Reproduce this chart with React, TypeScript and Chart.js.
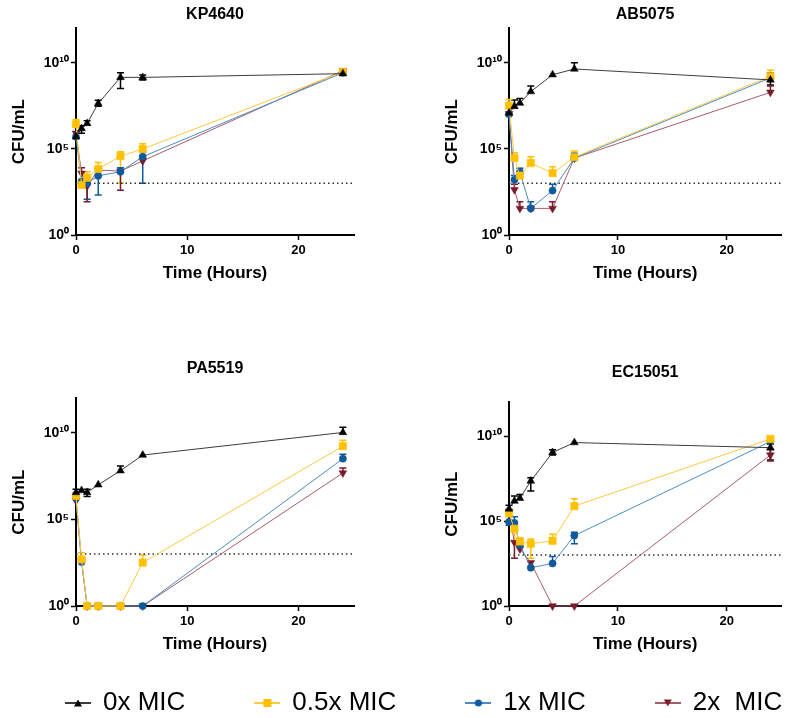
import React, { useEffect, useRef } from 'react';
import { Chart, registerables } from 'chart.js';

Chart.register(...registerables);

// ---------- data ----------
const times = [0, 0.5, 1, 2, 4, 6, 24];
const seriesLabels = ['0x MIC', '0.5x MIC', '1x MIC', '2x  MIC'];
const xTickValues = [0, 10, 20];
const yTickValues = [1, 1e5, 1e10];
const yTickLabels = ['10⁰', '10⁵', '10¹⁰'];
const lodX = [0, 25];
const lodY = [1e3, 1e3];

// KP4640
const kpMic0 = [5e5, 1.5e6, 3e6, 4.3e7, 1.4e9, 1.4e9, 2.3e9];
const kpMic0Hi = [null, 2.2e6, 4.2e6, 6.7e7, 2.6e9, 1.9e9, 2.9e9];
const kpMic0Lo = [null, 8e5, null, 3e7, 3.2e8, 9.8e8, null];
const kpMic05 = [2.7e6, 8e2, 2.1e3, 6.8e3, 3.8e4, 9.8e4, 2.9e9];
const kpMic05Hi = [5.1e6, null, 4.7e3, 1.6e4, 6.8e4, 2e5, 3.5e9];
const kpMic05Lo = [1.9e6, null, null, null, 1e3, null, null];
const kpMic1 = [5e5, 1.3e3, 1e3, 2.7e3, 4.7e3, 3.5e4, 2.6e9];
const kpMic1Hi = [null, null, 2.3e3, null, 8e3, 6.8e4, null];
const kpMic1Lo = [null, null, 1.2e2, 2.1e2, null, 1e3, null];
const kpMic2 = [8e5, 3.8e3, 6.9e2, 5.9e3, 5.1e3, 2e4, 3.4e9];
const kpMic2Hi = [null, 7.9e3, null, null, null, null, 4e9];
const kpMic2Lo = [null, null, 85, null, 4e2, null, null];

// AB5075
const abMic0 = [1.2e7, 2.9e7, 4.5e7, 2.1e8, 2e9, 4.3e9, 1e9];
const abMic0Hi = [null, 6.8e7, 8.3e7, 4.4e8, null, 9.8e9, 1.9e9];
const abMic0Lo = [null, null, null, null, null, null, 5e8];
const abMic05 = [3.2e7, 2.9e4, 2.8e3, 1.5e4, 3.9e3, 3.3e4, 1.6e9];
const abMic05Hi = [7.4e7, 5.9e4, 7.4e3, 3.5e4, 9.1e3, 7.4e4, 3.7e9];
const abMic05Lo = [null, null, null, null, null, null, null];
const abMic1 = [1e7, 1.6e3, 4.4e3, 35, 3.8e2, 2.9e4, 1.3e9];
const abMic1Hi = [null, 2.8e3, 7.4e3, 85, 8.7e2, 5.5e4, 2.5e9];
const abMic1Lo = [null, null, null, null, null, null, null];
const abMic2 = [1.1e7, 4.2e2, 35, 35, 35, 2.9e4, 1.9e8];
const abMic2Hi = [null, 8.7e2, 85, null, 85, null, 4.4e8];
const abMic2Lo = [null, null, null, null, null, null, null];

// PA5519
const paMic0 = [3.6e6, 4.7e6, 3.6e6, 1e7, 6.5e7, 5.2e8, 1.05e10];
const paMic0Hi = [5.6e6, null, 5.6e6, null, 1.2e8, null, 2.1e10];
const paMic0Lo = [null, null, 2.1e6, null, null, null, null];
const paMic05 = [2.3e6, 4.9e2, 1, 1, 1, 3.2e2, 1.7e9];
const paMic05Hi = [null, 1.2e3, null, null, null, 8.7e2, 3.7e9];
const paMic05Lo = [null, null, null, null, null, null, null];
const paMic1 = [1.7e6, 3.5e2, 1, 1, 1, 1, 3.2e8];
const paMic1Hi = [null, null, null, null, null, null, 5.8e8];
const paMic1Lo = [null, null, null, null, null, null, null];
const paMic2 = [1.2e6, 4e2, 1, 1, 1, 1, 4.8e7];
const paMic2Hi = [null, null, null, null, null, null, 9.3e7];
const paMic2Lo = [null, null, null, null, null, null, null];

// EC15051
const ecMic0 = [5.2e5, 1.5e6, 2.2e6, 2.3e7, 1.1e9, 4.2e9, 2.1e9];
const ecMic0Hi = [8.7e5, 3e6, 3.7e6, 3.6e7, 1.6e9, null, 3.5e9];
const ecMic0Lo = [null, null, null, 5.9e6, 7.8e8, null, 3.9e8];
const ecMic05 = [2.8e5, 3.5e4, 6.3e3, 4.6e3, 6.9e3, 7.6e5, 6.9e9];
const ecMic05Hi = [null, null, 1e4, 8.7e3, 1.7e4, 2.1e6, null];
const ecMic05Lo = [null, 7e3, null, 6.5e2, null, null, null];
const ecMic1 = [8.9e4, 7.8e4, 4e3, 1.8e2, 3.2e2, 1.4e4, 4.8e9];
const ecMic1Hi = [null, 1.8e5, null, null, 8.1e2, 2.2e4, null];
const ecMic1Lo = [5.6e4, null, null, null, null, 4.6e3, null];
const ecMic2 = [3.8e5, 5.5e3, 2.3e3, 3.5e2, 1, 1, 7.8e8];
const ecMic2Hi = [null, null, null, null, null, null, 1.6e9];
const ecMic2Lo = [null, 6.5e2, null, null, null, null, 3.5e8];

// ---------- styles ----------
const FONT = "'Liberation Sans', Arial, Helvetica, sans-serif";
const markerColors = ['#000000', '#FFC000', '#0E5A9C', '#7A1A2B'];
const lineColors = ['#3c3c3c', '#FFC940', '#4C8BC2', '#A65D69'];
const pointStyles = ['triangle', 'rect', 'circle', 'triangle'];
const pointRotations = [0, 0, 0, 180];
const pointRadii = [4.5, 5.2, 3.6, 4.5];
const drawOrder = [1, 2, 3, 4];

type Box = { left: number; right: number; top: number; bottom: number };
type PanelCfg = {
  title: string;
  series: number[][];
  hi: (number | null)[][];
  lo: (number | null)[][];
  pos: { left: number; top: number; width: number; height: number };
  padding: Box;
  titlePad: { top: number; bottom: number };
};

const panels: PanelCfg[] = [
  {
    title: 'KP4640',
    series: [kpMic0, kpMic05, kpMic1, kpMic2],
    hi: [kpMic0Hi, kpMic05Hi, kpMic1Hi, kpMic2Hi],
    lo: [kpMic0Lo, kpMic05Lo, kpMic1Lo, kpMic2Lo],
    pos: { left: 0, top: 0, width: 393, height: 300 },
    padding: { left: 0, right: 39, top: 0, bottom: 15 },
    titlePad: { top: 5, bottom: 4 },
  },
  {
    title: 'AB5075',
    series: [abMic0, abMic05, abMic1, abMic2],
    hi: [abMic0Hi, abMic05Hi, abMic1Hi, abMic2Hi],
    lo: [abMic0Lo, abMic05Lo, abMic1Lo, abMic2Lo],
    pos: { left: 393, top: 0, width: 394, height: 300 },
    padding: { left: 40, right: 0, top: 0, bottom: 15 },
    titlePad: { top: 5, bottom: 4 },
  },
  {
    title: 'PA5519',
    series: [paMic0, paMic05, paMic1, paMic2],
    hi: [paMic0Hi, paMic05Hi, paMic1Hi, paMic2Hi],
    lo: [paMic0Lo, paMic05Lo, paMic1Lo, paMic2Lo],
    pos: { left: 0, top: 340, width: 393, height: 340 },
    padding: { left: 0, right: 39, top: 0, bottom: 24 },
    titlePad: { top: 19, bottom: 20 },
  },
  {
    title: 'EC15051',
    series: [ecMic0, ecMic05, ecMic1, ecMic2],
    hi: [ecMic0Hi, ecMic05Hi, ecMic1Hi, ecMic2Hi],
    lo: [ecMic0Lo, ecMic05Lo, ecMic1Lo, ecMic2Lo],
    pos: { left: 393, top: 340, width: 394, height: 340 },
    padding: { left: 40, right: 0, top: 0, bottom: 24 },
    titlePad: { top: 23, bottom: 20 },
  },
];

const errorBarPlugin = {
  id: 'errorBars',
  beforeDatasetsDraw(chart: any) {
    const { ctx } = chart;
    const xs = chart.scales.x;
    const ys = chart.scales.y;
    chart.data.datasets.forEach((ds: any) => {
      if (!ds.errHi && !ds.errLo) return;
      ctx.save();
      ctx.strokeStyle = ds.pointBackgroundColor;
      ctx.lineWidth = 1.5;
      ds.data.forEach((pt: any, j: number) => {
        const x = xs.getPixelForValue(pt.x);
        const y = ys.getPixelForValue(pt.y);
        [ds.errHi ? ds.errHi[j] : null, ds.errLo ? ds.errLo[j] : null].forEach((v: any) => {
          if (v == null) return;
          const ye = ys.getPixelForValue(v);
          ctx.beginPath();
          ctx.moveTo(x, y);
          ctx.lineTo(x, ye);
          ctx.moveTo(x - 3.5, ye);
          ctx.lineTo(x + 3.5, ye);
          ctx.stroke();
        });
      });
      ctx.restore();
    });
  },
};

function axisCommon() {
  return {
    grid: { drawOnChartArea: false, drawTicks: true, tickLength: 5, tickWidth: 1.5, tickColor: '#000' },
    border: { display: true, color: '#000', width: 2 },
  };
}

function Panel({ cfg }: { cfg: PanelCfg }) {
  const ref = useRef<HTMLCanvasElement>(null);
  useEffect(() => {
    if (!ref.current) return;
    const datasets: any[] = cfg.series.map((vals, s) => ({
      label: seriesLabels[s],
      data: times.map((t, i) => ({ x: t, y: vals[i] })),
      errHi: cfg.hi[s],
      errLo: cfg.lo[s],
      borderColor: lineColors[s],
      borderWidth: 1,
      pointBackgroundColor: markerColors[s],
      pointBorderColor: markerColors[s],
      pointBorderWidth: 0.5,
      pointStyle: pointStyles[s],
      pointRotation: pointRotations[s],
      pointRadius: pointRadii[s],
      clip: false,
      tension: 0,
      order: drawOrder[s],
    }));
    datasets.push({
      label: 'limit',
      data: lodX.map((x, i) => ({ x, y: lodY[i] })),
      borderColor: '#333',
      borderWidth: 1.5,
      borderDash: [1.5, 3],
      pointRadius: 0,
      clip: false,
      order: 10,
    });
    const chart = new Chart(ref.current, {
      type: 'line',
      data: { datasets },
      plugins: [errorBarPlugin],
      options: {
        animation: false,
        responsive: false,
        devicePixelRatio: 1,
        events: [],
        layout: { padding: cfg.padding },
        plugins: {
          legend: { display: false },
          tooltip: { enabled: false },
          title: {
            display: true,
            text: cfg.title,
            color: '#000',
            fullSize: false,
            font: { family: FONT, size: 16, weight: 'bold' },
            padding: cfg.titlePad,
          },
        },
        scales: {
          x: {
            type: 'linear',
            min: 0,
            max: 25,
            afterBuildTicks: (s: any) => {
              s.ticks = xTickValues.map((v) => ({ value: v }));
            },
            ...axisCommon(),
            ticks: { color: '#000', font: { family: FONT, size: 13, weight: 'bold' }, padding: 3, maxRotation: 0, autoSkip: false },
            title: {
              display: true,
              text: 'Time (Hours)',
              color: '#000',
              font: { family: FONT, size: 17, weight: 'bold' },
              padding: { top: 0, bottom: 1 },
            },
            afterFit: (s: any) => {
              s.height = 50;
            },
          },
          y: {
            type: 'logarithmic',
            min: 1,
            max: 1e12,
            afterBuildTicks: (s: any) => {
              s.ticks = yTickValues.map((v) => ({ value: v }));
            },
            ...axisCommon(),
            ticks: {
              color: '#000',
              font: { family: FONT, size: 14, weight: 'bold' },
              padding: 2,
              autoSkip: false,
              callback: (v: any) => {
                const k = yTickValues.indexOf(Number(v));
                return k >= 0 ? yTickLabels[k] : '';
              },
            },
            title: {
              display: true,
              text: 'CFU/mL',
              color: '#000',
              font: { family: FONT, size: 17, weight: 'bold' },
              padding: { top: 9, bottom: 0 },
            },
            afterFit: (s: any) => {
              s.width = 76;
            },
          },
        },
      } as any,
    });
    return () => chart.destroy();
  }, [cfg]);
  return (
    <canvas
      ref={ref}
      width={cfg.pos.width}
      height={cfg.pos.height}
      style={{ position: 'absolute', left: cfg.pos.left, top: cfg.pos.top, width: cfg.pos.width, height: cfg.pos.height }}
    />
  );
}

function makeIcon(s: number): HTMLCanvasElement {
  const c = document.createElement('canvas');
  c.width = 26;
  c.height = 14;
  const ctx = c.getContext('2d')!;
  ctx.strokeStyle = lineColors[s];
  ctx.lineWidth = 2;
  ctx.beginPath();
  ctx.moveTo(0, 7);
  ctx.lineTo(26, 7);
  ctx.stroke();
  ctx.fillStyle = markerColors[s];
  ctx.beginPath();
  const st = pointStyles[s];
  if (st === 'rect') {
    ctx.rect(13 - 4, 7 - 4, 8, 8);
  } else if (st === 'circle') {
    ctx.arc(13, 7, 3.6, 0, Math.PI * 2);
  } else if (pointRotations[s] === 180) {
    ctx.moveTo(9, 3.5);
    ctx.lineTo(17, 3.5);
    ctx.lineTo(13, 10.5);
    ctx.closePath();
  } else {
    ctx.moveTo(9, 10.5);
    ctx.lineTo(17, 10.5);
    ctx.lineTo(13, 3.5);
    ctx.closePath();
  }
  ctx.fill();
  return c;
}

function Legend() {
  const ref = useRef<HTMLCanvasElement>(null);
  useEffect(() => {
    if (!ref.current) return;
    const icons = seriesLabels.map((_, s) => makeIcon(s));
    const chart = new Chart(ref.current, {
      type: 'line',
      data: { datasets: seriesLabels.map((label) => ({ label, data: [] })) },
      options: {
        animation: false,
        responsive: false,
        devicePixelRatio: 1,
        events: [],
        scales: { x: { display: false }, y: { display: false } },
        plugins: {
          tooltip: { enabled: false },
          legend: {
            display: true,
            position: 'top',
            align: 'start',
            labels: {
              usePointStyle: true,
              pointStyleWidth: 24,
              padding: 70,
              color: '#000',
              font: { family: FONT, size: 26 },
              generateLabels: (ch: any) =>
                ch.data.datasets.map((ds: any, i: number) => ({
                  text: ds.label,
                  pointStyle: icons[i],
                  fillStyle: 'transparent',
                  strokeStyle: 'transparent',
                  lineWidth: 0,
                  hidden: false,
                  datasetIndex: i,
                  fontColor: '#000',
                })),
            },
          },
        },
      } as any,
    });
    return () => chart.destroy();
  }, []);
  return (
    <canvas
      ref={ref}
      width={950}
      height={220}
      style={{ position: 'absolute', left: -4, top: 620, width: 950, height: 220 }}
    />
  );
}

export default function App() {
  return (
    <div
      style={{
        position: 'fixed',
        left: 0,
        top: 0,
        width: 787,
        height: 718,
        overflow: 'hidden',
        background: '#fff',
      }}
    >
      {panels.map((p) => (
        <Panel key={p.title} cfg={p} />
      ))}
      <Legend />
    </div>
  );
}
